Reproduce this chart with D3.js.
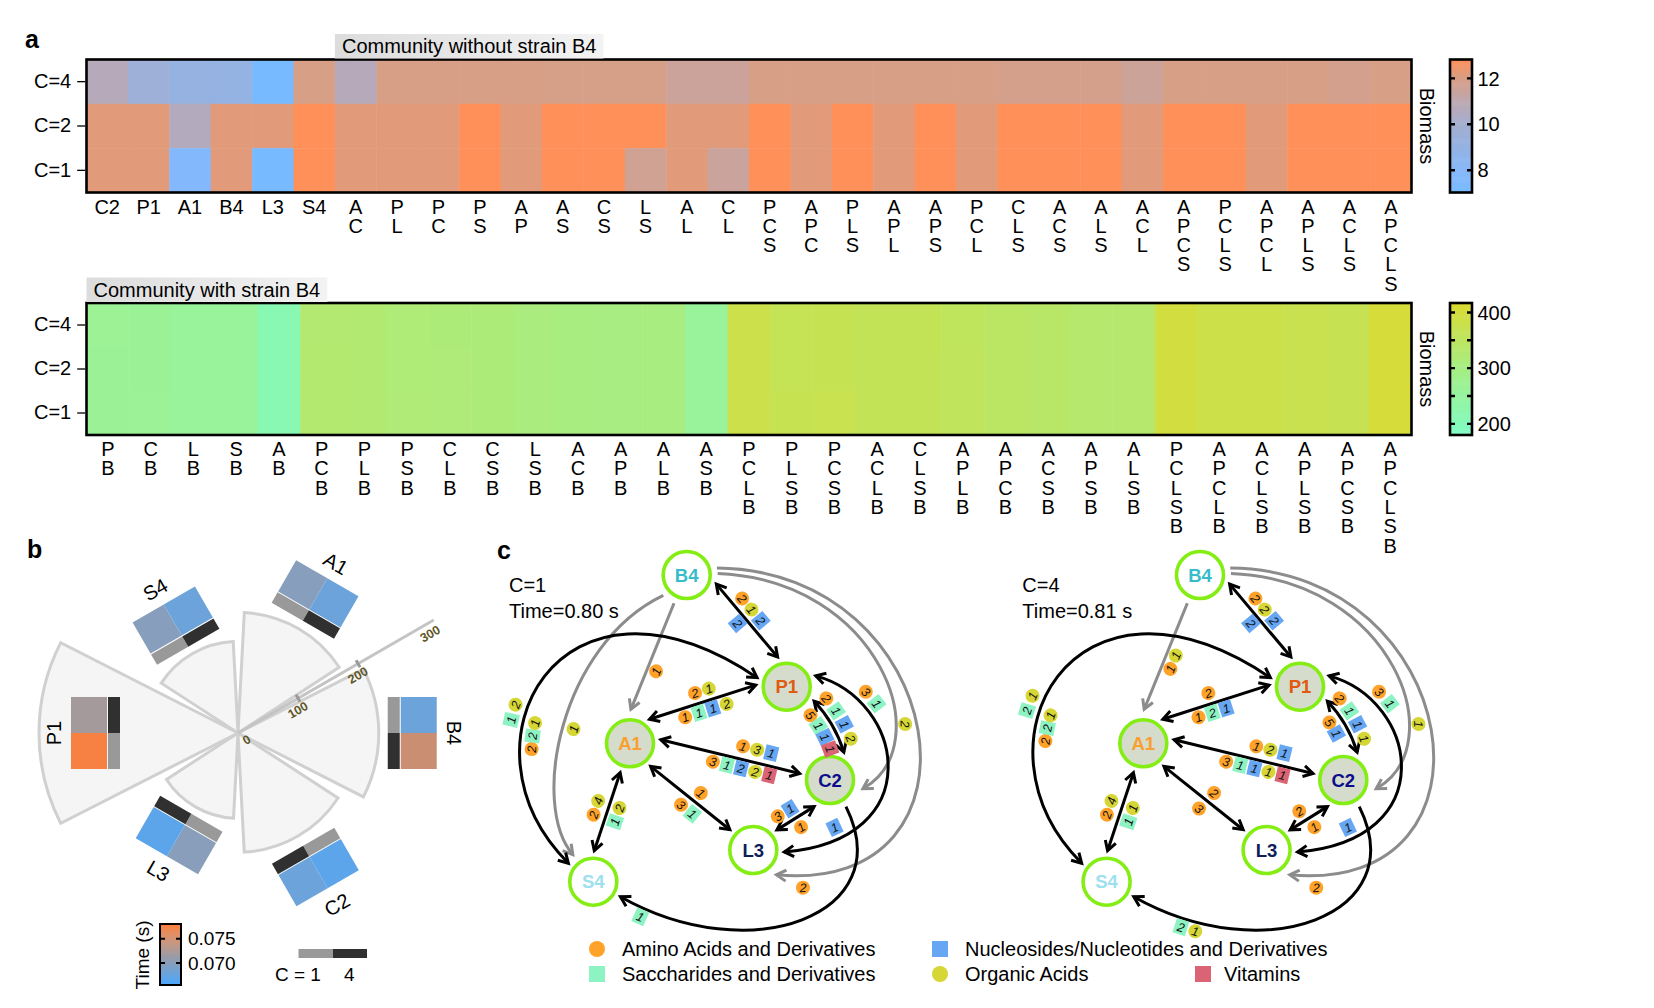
<!DOCTYPE html>
<html>
<head>
<meta charset="utf-8">
<script src="https://cdn.jsdelivr.net/npm/d3@7/dist/d3.min.js"></script>
<style>
  html,body{margin:0;padding:0;background:#ffffff;}
  text{font-family:"Liberation Sans",Arial,Helvetica,sans-serif;}
</style>
</head>
<body>
<svg id="fig" width="1654" height="1008" viewBox="0 0 1654 1008"></svg>
<script>
// ======================= DATA =======================
const rowLabels = ["C=4", "C=2", "C=1"];

// Panel a (top): community without strain B4
const topCols = ["C2","P1","A1","B4","L3","S4","AC","PL","PC","PS","AP","AS","CS","LS","AL","CL",
  "PCS","APC","PLS","APL","APS","PCL","CLS","ACS","ALS","ACL","APCS","PCLS","APCL","APLS","ACLS","APCLS"];
const topC4 = [10.7,9.6,9.1,9.0,7.0,11.95,10.7,11.95,11.95,11.95,11.95,11.9,11.9,11.9,11.5,11.5,
  11.95,11.95,11.95,11.95,11.95,11.95,11.85,11.85,11.85,11.55,11.95,11.95,11.95,11.95,11.8,11.95];
const topC2 = [12.2,12.2,10.6,12.2,12.2,12.8,12.2,12.2,12.2,12.8,12.2,12.8,12.8,12.8,12.2,12.2,
  12.8,12.2,12.8,12.2,12.8,12.2,12.8,12.8,12.8,12.2,12.8,12.8,12.2,12.8,12.8,12.8];
const topC1 = [12.2,12.2,7.7,12.2,7.0,12.8,12.2,12.2,12.2,12.8,12.2,12.8,12.8,11.65,12.2,11.45,
  12.8,12.2,12.8,12.2,12.8,12.2,12.8,12.8,12.8,12.2,12.8,12.8,12.2,12.8,12.8,12.8];
const topTicks = [8, 10, 12];

// Panel a (bottom): community with strain B4
const botCols = ["PB","CB","LB","SB","AB","PCB","PLB","PSB","CLB","CSB","LSB","ACB","APB","ALB","ASB",
  "PCLB","PLSB","PCSB","ACLB","CLSB","APLB","APCB","ACSB","APSB","ALSB","PCLSB","APCLB","ACLSB","APLSB","APCSB","APCLSB"];
const botC4 = [268,266,258,257,212,328,326,318,316,315,308,305,303,305,258,
  380,365,368,362,362,355,345,340,333,333,395,382,382,375,370,405];
const botC2 = [267,266,259,257,211,329,326,318,317,315,308,305,303,305,257,
  380,366,368,362,362,356,345,340,333,333,395,382,382,375,370,405];
const botC1 = [267,265,259,256,211,329,326,319,317,315,309,305,303,305,257,
  381,372,373,362,362,356,345,340,333,333,395,382,382,375,370,405];
const botTicks = [200, 300, 400];
const botMinorTicks = [250, 350];

// Panel b
const strains = ["B4","A1","S4","P1","L3","C2"];
const wedgeValue = [203, 174, 132, 287, 123, 172];
const timeC1 = [0.0679, 0.0699, 0.0699, 0.0775, 0.0700, 0.0668];
const timeC4 = [0.0745, 0.0679, 0.0679, 0.0720, 0.0668, 0.0679];
const radialTicks = [0, 100, 200, 300];
const timeTicks = [0.070, 0.075];

// Panel c
const netNodes = ["B4","P1","A1","C2","L3","S4"];
const netCond = [1, 4];
const netTime = [0.80, 0.81];
const netC1Edges = ["g1","g2","g3","g4","e1","e2","e3","e4","e5","e6","e7","e8","e9","e10"];
const netC4Edges = ["g1","g3","g4","e1","e2","e3","e4","e5","e6","e7","e8","e9","e10"];
const netC1Counts = {
  e1A:"aa2 oa1 nu2", e1B:"nu2", e2A:"aa2 oa1", e2B:"aa1 sa1 nu1 oa2",
  e3A:"aa1 oa3 nu1", e3B:"aa3 sa1 nu2 oa2 vi1", e4A:"aa1", e4B:"aa3 sa1",
  e5A:"oa4 aa2", e5B:"oa2 sa1", e6A:"aa2 sa1 nu1 oa2", e6B:"aa5 sa1 nu1 vi1",
  e7A:"aa3 sa1", e7B:"nu1", e8A:"sa1", e9A:"sa1 oa2", e9B:"aa2 sa2 oa1",
  e10A:"nu1 aa3", e10B:"aa1", g1A:"aa1", g2A:"oa1", g3A:"oa2", g4A:"aa2"
};
const netC4Counts = {
  e1A:"aa2 oa2 nu2", e1B:"nu2", e2A:"aa2", e2B:"aa1 sa2 nu1",
  e3A:"aa1 oa2 nu1", e3B:"aa3 sa1 nu1 oa1 vi1", e4A:"aa2", e4B:"aa3",
  e5A:"oa4 aa2", e5B:"oa1 sa1", e6A:"aa2 sa1 nu1 oa1", e6B:"aa5 nu1",
  e7A:"aa3 sa1", e7B:"nu1", e8A:"oa1 sa2", e9A:"sa2 oa1", e9B:"aa2 sa2 oa1",
  e10A:"aa2", e10B:"aa1", g1A:"oa1 aa1", g3A:"oa1", g4A:"aa2"
};
const metaKeys = ["aa","sa","nu","oa","vi"];
const metaNames = ["Amino Acids and Derivatives","Saccharides and Derivatives",
  "Nucleosides/Nucleotides and Derivatives","Organic Acids","Vitamins"];

// ======================= STYLE / LAYOUT =======================
const FONT = '"Liberation Sans", Arial, Helvetica, sans-serif';
const svg = d3.select("#fig");
const defs = svg.append("defs");
const gradT = defs.append("linearGradient").attr("id","titleGrad").attr("x1","0").attr("x2","1").attr("y1","0").attr("y2","0");
gradT.append("stop").attr("offset","0").attr("stop-color","#dcdcdc");
gradT.append("stop").attr("offset","1").attr("stop-color","#f3f3f3");

const topColor = d3.scaleLinear()
  .domain([7, 8, 9, 10, 11, 12, 12.8])
  .range(["#78baff","#88b8fa","#94b2e2","#a4aed0","#bea8b0","#d89e84","#ff905a"])
  .clamp(true);
const botColor = d3.scaleLinear()
  .domain([180, 300, 417])
  .range(["#7ffcc4","#a6ee84","#dcda30"]).clamp(true);
const timeColor = d3.scaleLinear()
  .domain([0.0655, 0.072, 0.078])
  .range(["#4aa8ff","#a49a9c","#ff7f3a"]).clamp(true);

const HM = {x0: 86.5, x1: 1411.5};

function panelLabel(t, x, y) {
  svg.append("text").attr("x", x).attr("y", y).attr("font-size", 25)
    .attr("font-weight", "bold").attr("fill", "#000").text(t);
}

function heatmap(o) {
  const g = svg.append("g");
  const x = d3.scaleBand().domain(o.cols).range([HM.x0, HM.x1]);
  const y = d3.scaleBand().domain(rowLabels).range([o.y0, o.y1]);
  const rows = [o.v4, o.v2, o.v1];
  rowLabels.forEach((r, ri) => {
    g.append("g").selectAll("rect").data(o.cols).join("rect")
      .attr("x", c => x(c)).attr("y", y(r))
      .attr("width", x.bandwidth() + 0.5).attr("height", y.bandwidth() + 0.5)
      .attr("fill", (c, i) => o.color(rows[ri][i]));
  });
  g.append("rect").attr("x", HM.x0).attr("y", o.y0)
    .attr("width", HM.x1 - HM.x0).attr("height", o.y1 - o.y0)
    .attr("fill", "none").attr("stroke", "#000").attr("stroke-width", 2.6);
  const ax = g.append("g").attr("transform", `translate(${HM.x0 - 1.3},0)`)
    .call(d3.axisLeft(y).tickSize(8).tickPadding(6));
  ax.select(".domain").remove();
  ax.selectAll("line").attr("stroke", "#000").attr("stroke-width", 1.3);
  ax.selectAll("text").attr("font-size", 20).attr("font-family", FONT).attr("fill", "#000");
  g.append("g").selectAll("text").data(o.cols).join("text")
    .attr("x", c => x(c) + x.bandwidth() / 2).attr("y", o.y1 + 21)
    .attr("text-anchor", "middle").attr("font-size", 20).attr("fill", "#000")
    .each(function (c) {
      const lines = /\d/.test(c) ? [c] : c.split("");
      d3.select(this).selectAll("tspan").data(lines).join("tspan")
        .attr("x", x(c) + x.bandwidth() / 2)
        .attr("dy", (d, i) => i ? 19.3 : 0).text(d => d);
    });
  const tx = x(o.cols[o.titleCol]) + 7;
  const tbox = g.append("rect").attr("x", tx - 7).attr("y", o.y0 - 25.5)
    .attr("height", 24.5).attr("fill", "url(#titleGrad)");
  const tt = g.append("text").attr("x", tx).attr("y", o.y0 - 6.5).attr("font-size", 20)
    .attr("fill", "#000").text(o.title);
  tbox.attr("width", tt.node().getComputedTextLength() + 14);
  const cb = {x0: 1450, x1: 1472};
  const yS = d3.scaleLinear().domain(o.cbDomain).range([o.y1, o.y0]);
  const nSteps = 140, st = (o.y1 - o.y0) / nSteps;
  g.append("g").selectAll("rect").data(d3.range(nSteps)).join("rect")
    .attr("x", cb.x0).attr("width", cb.x1 - cb.x0)
    .attr("y", i => o.y0 + i * st).attr("height", st + 0.6)
    .attr("fill", i => o.color(yS.invert(o.y0 + (i + 0.5) * st)));
  const allTicks = o.ticks.concat(o.minor || []);
  g.append("g").selectAll("path").data(allTicks).join("path")
    .attr("d", v => `M${cb.x0},${yS(v)}h5M${cb.x1},${yS(v)}h-5`)
    .attr("stroke", "#000").attr("stroke-width", 2.4);
  g.append("rect").attr("x", cb.x0).attr("y", o.y0).attr("width", cb.x1 - cb.x0)
    .attr("height", o.y1 - o.y0).attr("fill", "none").attr("stroke", "#000").attr("stroke-width", 2.6);
  g.append("g").selectAll("text").data(o.ticks).join("text")
    .attr("x", cb.x1 + 5.5).attr("y", v => yS(v)).attr("dy", "0.36em")
    .attr("font-size", 20).attr("fill", "#000").text(v => v);
  g.append("text").attr("transform", `translate(1420,${(o.y0 + o.y1) / 2}) rotate(90)`)
    .attr("text-anchor", "middle").attr("font-size", 20).attr("fill", "#000").text("Biomass");
}

panelLabel("a", 25, 48);
heatmap({cols: topCols, v4: topC4, v2: topC2, v1: topC1, y0: 59.5, y1: 192.5, color: topColor,
  cbDomain: [7.03, 12.82], ticks: topTicks, title: "Community without strain B4", titleCol: 6});
heatmap({cols: botCols, v4: botC4, v2: botC2, v1: botC1, y0: 303, y1: 435, color: botColor,
  cbDomain: [180, 417], ticks: botTicks, minor: botMinorTicks, title: "Community with strain B4", titleCol: 0});

// ======================= PANEL b =======================
panelLabel("b", 27, 558);
(function () {
  const cx = 238, cy = 733, D = Math.PI / 180;
  const rS = d3.scaleLinear().domain([0, 300]).range([0, 208]);
  const gb = svg.append("g");
  const angleOf = i => i * 60;
  const half = 27;
  const tileGap = {B4: 15, A1: 15, S4: 14, P1: null, L3: 14, C2: 17};
  const labelGap = {B4: 60, A1: 60, S4: 60, P1: 60, L3: 60, C2: 62};
  strains.forEach((s, i) => {
    const th = angleOf(i);
    const arc = d3.arc().innerRadius(0).outerRadius(rS(wedgeValue[i]))
      .startAngle((90 - th - half) * D).endAngle((90 - th + half) * D);
    gb.append("path").attr("transform", `translate(${cx},${cy})`).attr("d", arc())
      .attr("fill", "#f5f5f5").attr("stroke", "#d0d0d0").attr("stroke-width", 3)
      .attr("stroke-linejoin", "miter");
  });
  const ax = 30 * D, ux = Math.cos(ax), uy = -Math.sin(ax);
  const rEnd = rS(326);
  gb.append("line").attr("x1", cx).attr("y1", cy).attr("x2", cx + rEnd * ux).attr("y2", cy + rEnd * uy)
    .attr("stroke", "#c4c4c4").attr("stroke-width", 3);
  const px = -uy, py = ux;
  gb.selectAll(".rt").data(radialTicks.filter(v => v > 0 && v < 300)).join("line")
    .attr("x1", v => cx + rS(v) * ux - 4 * px).attr("y1", v => cy + rS(v) * uy - 4 * py)
    .attr("x2", v => cx + rS(v) * ux + 4 * px).attr("y2", v => cy + rS(v) * uy + 4 * py)
    .attr("stroke", "#9a9a9a").attr("stroke-width", 3);
  const sinA = Math.sin(ax), cosA = Math.cos(ax);
  const alongShift = v => v === 0 ? 4 : (v === 300 ? 8 : -6);
  gb.selectAll(".rl").data(radialTicks).join("text")
    .attr("transform", v => {
      const r = rS(v) + alongShift(v);
      return `translate(${cx + r * ux + 10 * sinA},${cy + r * uy + 10 * cosA}) rotate(-30)`;
    })
    .attr("text-anchor", "middle").attr("dy", "0.35em").attr("font-size", 12.5)
    .attr("font-weight", "bold").attr("fill", "#5e5628").text(v => v);
  strains.forEach((s, i) => {
    const th = angleOf(i);
    const r = rS(wedgeValue[i]);
    const rs = tileGap[s] === null ? 124 : r + tileGap[s];
    const t = gb.append("g").attr("transform", `translate(${cx},${cy}) rotate(${-th})`);
    t.append("rect").attr("x", rs - 6).attr("y", -36).attr("width", 12).attr("height", 36).attr("fill", "#999999");
    t.append("rect").attr("x", rs - 6).attr("y", 0).attr("width", 12).attr("height", 36).attr("fill", "#303030");
    t.append("rect").attr("x", rs + 7).attr("y", -36).attr("width", 36).attr("height", 36).attr("fill", timeColor(timeC1[i]));
    t.append("rect").attr("x", rs + 7).attr("y", 0).attr("width", 36).attr("height", 36).attr("fill", timeColor(timeC4[i]));
    const rl = rs + labelGap[s];
    let rot = 90 - th;
    if (th > 180 && th < 360) rot += 180;
    gb.append("text")
      .attr("transform", `translate(${cx + rl * Math.cos(th * D)},${cy - rl * Math.sin(th * D)}) rotate(${rot})`)
      .attr("text-anchor", "middle").attr("dy", "0.35em").attr("font-size", 20).attr("fill", "#000").text(s);
  });
  const ly = d3.scaleLinear().domain([0.0655, 0.078]).range([985, 924]);
  const n = 60, st = (985 - 924) / n;
  gb.append("g").selectAll("rect").data(d3.range(n)).join("rect")
    .attr("x", 160).attr("width", 21).attr("y", i => 924 + i * st).attr("height", st + 0.5)
    .attr("fill", i => timeColor(ly.invert(924 + (i + 0.5) * st)));
  gb.selectAll(".tt").data(timeTicks).join("path")
    .attr("d", v => `M160,${ly(v)}h5M181,${ly(v)}h-5`).attr("stroke", "#000").attr("stroke-width", 2);
  gb.append("rect").attr("x", 160).attr("y", 924).attr("width", 21).attr("height", 61)
    .attr("fill", "none").attr("stroke", "#000").attr("stroke-width", 2);
  gb.selectAll(".tl").data(timeTicks).join("text")
    .attr("x", 188).attr("y", v => ly(v)).attr("dy", "0.36em").attr("font-size", 19).attr("fill", "#000")
    .text(v => v.toFixed(3));
  gb.append("text").attr("transform", "translate(142,955) rotate(-90)").attr("text-anchor", "middle")
    .attr("dy", "0.35em").attr("font-size", 19).attr("fill", "#000").text("Time (s)");
  gb.append("rect").attr("x", 298.5).attr("y", 949).attr("width", 34.5).attr("height", 9).attr("fill", "#999999");
  gb.append("rect").attr("x", 333).attr("y", 949).attr("width", 34).attr("height", 9).attr("fill", "#303030");
  gb.append("text").attr("x", 275).attr("y", 981).attr("font-size", 19).attr("fill", "#000").text("C = " + netCond[0]);
  gb.append("text").attr("x", 344).attr("y", 981).attr("font-size", 19).attr("fill", "#000").text(netCond[1]);
})();

// ======================= PANEL c =======================
panelLabel("c", 497, 559);
const nodePos = {B4: [226.7, 70], P1: [326.7, 181.7], A1: [170, 238.3], C2: [370, 275], L3: [293.3, 345], S4: [133.3, 376.7]};
const nodeFill = {B4: "#ffffff", P1: "#d5dccc", A1: "#d5dccc", C2: "#d5dccc", L3: "#ffffff", S4: "#ffffff"};
const nodeText = {B4: "#38bcca", P1: "#e05a10", A1: "#f8a030", C2: "#0c0c8c", L3: "#0e1e5a", S4: "#9ee0ee"};
const metaColor = {aa: "#ffa229", sa: "#8ef3c3", nu: "#66a6f2", oa: "#d6d636", vi: "#da6474"};
const edgeGeom = {
  e1: {s: "B4", t: "P1", type: "line", shift: [-16, -13], arrows: "both"},
  e2: {s: "A1", t: "P1", type: "line", shift: [-16, -12], arrows: "both"},
  e3: {s: "A1", t: "C2", type: "line", shift: [-9, -1], arrows: "both"},
  e4: {s: "A1", t: "L3", type: "line", shift: [4, 0], arrows: "both"},
  e5: {s: "A1", t: "S4", type: "line", shift: [2, 7], arrows: "both"},
  e6: {s: "P1", t: "C2", type: "quad", a: [28, -63.5], q: [374.8, 217.7], arrows: "both"},
  e7: {s: "P1", t: "L3", type: "cubic", a: [-20.5, 3.6], c1: [445, 195], c2: [470, 335], arrows: "both"},
  e8: {s: "C2", t: "S4", type: "cubic", a: [59, 29], c1: [440, 410], c2: [290, 465], arrows: "end"},
  e9: {s: "S4", t: "P1", type: "cubic", a: [-143.5, -163], c1: [-10, 240], c2: [100, 40], arrows: "both"},
  e10: {s: "C2", t: "L3", type: "line", shift: [-9, -1], arrows: "both"},
  g1: {s: "B4", t: "A1", type: "line", shift: [3, 10], arrows: "end", gray: true},
  g2: {s: "B4", t: "S4", type: "cubic", a: [139, -127], c1: [100, 140], c2: [70, 300], arrows: "end", gray: true},
  g3: {s: "B4", t: "C2", type: "cubic", a: [-3, 15], c1: [420, 75], c2: [480, 240], arrows: "end", gray: true},
  g4: {s: "B4", t: "L3", type: "cubic", a: [-13, 47], c1: [490, 65], c2: [540, 390], arrows: "end", gray: true}
};
const badgeLayout = {
  e1A: {f: [.29, .29], off: -10.5}, e1B: {f: [.46, .46], off: 9},
  e2A: {f: [.46, .46], off: -11}, e2B: {f: [.31, .31], off: 9},
  e3A: {f: [.57, .57], off: -13}, e3B: {f: [.39, .39], off: 9},
  e4A: {f: [.55, .55], off: -10.5}, e4B: {f: [.47, .53], off: 11},
  e5A: {f: [.41, .41], off: 12}, e5B: {f: [.41, .41], off: -10.5},
  e6A: {f: [.10, .10], off: -11}, e6B: {f: [.14, .31], off: 12},
  e7A: {f: [.18, .18], off: -11}, e7B: {f: [.79, .79], off: 12},
  e8A: {f: [.92, .79], off: -9},
  e9A: {f: [.35, .37], off: -12}, e9B: {f: [.29, .31], off: 12},
  e10A: {f: [.49, .60], off: 11}, e10B: {f: [.50, .50], off: -10.5},
  g1A: {f: [.61, .46], off: -9}, g2A: {f: [.56, .56], off: -11},
  g3A: {f: [.77, .77], off: -9}, g4A: {f: [.95, .95], off: -12}
};

function drawNet(ni, ox, oy, edgeList, counts) {
  const X = d3.scaleLinear().domain([0, 100]).range([ox, ox + 100]);
  const Y = d3.scaleLinear().domain([0, 100]).range([oy, oy + 100]);
  const P = k => [X(nodePos[k][0]), Y(nodePos[k][1])];
  const D = Math.PI / 180;
  const g = svg.append("g");
  const gE = g.append("g"), gA = g.append("g"), gN = g.append("g"), gB = g.append("g");
  const pathNodes = {};
  edgeList.forEach(id => {
    const e = edgeGeom[id];
    const S = P(e.s), T = P(e.t);
    const R0 = 31, R1 = e.gray ? 34 : 31;
    let d;
    if (e.type === "line") {
      const dx = T[0] - S[0], dy = T[1] - S[1], L = Math.hypot(dx, dy);
      const ux = dx / L, uy = dy / L, nx = -uy, ny = ux;
      const s0 = e.shift[0], s1 = e.shift[1];
      const a0 = Math.sqrt(R0 * R0 - s0 * s0), a1 = Math.sqrt(R1 * R1 - s1 * s1);
      const p0 = [S[0] + s0 * nx + a0 * ux, S[1] + s0 * ny + a0 * uy];
      const p1 = [T[0] + s1 * nx - a1 * ux, T[1] + s1 * ny - a1 * uy];
      d = `M${p0}L${p1}`;
    } else {
      const p0 = [S[0] + R0 * Math.cos(e.a[0] * D), S[1] + R0 * Math.sin(e.a[0] * D)];
      const p1 = [T[0] + R1 * Math.cos(e.a[1] * D), T[1] + R1 * Math.sin(e.a[1] * D)];
      if (e.type === "quad") d = `M${p0}Q${X(e.q[0])},${Y(e.q[1])} ${p1}`;
      else d = `M${p0}C${X(e.c1[0])},${Y(e.c1[1])} ${X(e.c2[0])},${Y(e.c2[1])} ${p1}`;
    }
    const col = e.gray ? "#8c8c8c" : "#000000";
    const path = gE.append("path").attr("d", d).attr("fill", "none").attr("stroke", col).attr("stroke-width", 3);
    const pn = path.node();
    pathNodes[id] = pn;
    const L = pn.getTotalLength();
    const head = (tipL, backL) => {
      const tp = pn.getPointAtLength(tipL), bp = pn.getPointAtLength(backL);
      let ux = tp.x - bp.x, uy = tp.y - bp.y; const m = Math.hypot(ux, uy); ux /= m; uy /= m;
      const len = 11, ca = Math.cos(30 * D), sa = Math.sin(30 * D);
      const l1 = [tp.x - len * (ux * ca - uy * sa), tp.y - len * (uy * ca + ux * sa)];
      const l2 = [tp.x - len * (ux * ca + uy * sa), tp.y - len * (uy * ca - ux * sa)];
      gA.append("path").attr("d", `M${l1}L${tp.x},${tp.y}L${l2}`).attr("fill", "none")
        .attr("stroke", col).attr("stroke-width", 3).attr("stroke-linejoin", "miter");
    };
    head(L, L - 4);
    if (e.arrows === "both") head(0, 4);
  });
  netNodes.forEach(k => {
    const [x, y] = P(k);
    gN.append("circle").attr("cx", x).attr("cy", y).attr("r", 23.5).attr("fill", nodeFill[k])
      .attr("stroke", "#84ee14").attr("stroke-width", 3.6);
    gN.append("text").attr("x", x).attr("y", y).attr("dy", "0.36em").attr("text-anchor", "middle")
      .attr("font-size", 18.5).attr("font-weight", "bold").attr("fill", nodeText[k]).text(k);
  });
  Object.keys(counts).forEach(key => {
    const id = key.slice(0, -1);
    const pn = pathNodes[id];
    if (!pn) return;
    const lay = badgeLayout[key];
    const items = counts[key].split(" ").map(s => ({type: s.slice(0, 2), n: s.slice(2)}));
    const L = pn.getTotalLength();
    items.forEach((it, k) => {
      let l = lay.f[ni] * L + k * 14.5;
      l = Math.max(1, Math.min(L - 1, l));
      const p = pn.getPointAtLength(l);
      const pa = pn.getPointAtLength(Math.max(0, l - 1.5)), pb = pn.getPointAtLength(Math.min(L, l + 1.5));
      let ux = pb.x - pa.x, uy = pb.y - pa.y; const m = Math.hypot(ux, uy); ux /= m; uy /= m;
      const x = p.x - uy * lay.off, y = p.y + ux * lay.off;
      let ang = Math.atan2(uy, ux) * 180 / Math.PI;
      if (ang > 90) ang -= 180;
      if (ang <= -90) ang += 180;
      const b = gB.append("g").attr("transform", `translate(${x},${y}) rotate(${ang})`);
      if (it.type === "aa" || it.type === "oa") {
        b.append("circle").attr("r", 7).attr("fill", metaColor[it.type]);
      } else {
        b.append("rect").attr("x", -6.5).attr("y", -7.5).attr("width", 13).attr("height", 15).attr("fill", metaColor[it.type]);
      }
      b.append("text").attr("text-anchor", "middle").attr("dy", "0.36em").attr("font-size", 12.5)
        .attr("font-style", "italic").attr("fill", "#111").text(it.n);
    });
  });
  g.append("text").attr("x", ox + 49).attr("y", 592).attr("font-size", 20).attr("fill", "#000").text("C=" + netCond[ni]);
  g.append("text").attr("x", ox + 49).attr("y", 618).attr("font-size", 20).attr("fill", "#000")
    .text("Time=" + netTime[ni].toFixed(2) + " s");
}

drawNet(0, 460, 505, netC1Edges, netC1Counts);
drawNet(1, 973.3, 505, netC4Edges, netC4Counts);

(function () {
  const lx = {aa: 597, sa: 597, nu: 940, oa: 940, vi: 1203};
  const lyy = {aa: 949, sa: 974, nu: 949, oa: 974, vi: 974};
  const gl = svg.append("g");
  metaKeys.forEach((k, i) => {
    const x = lx[k], y = lyy[k];
    if (k === "aa" || k === "oa") gl.append("circle").attr("cx", x).attr("cy", y).attr("r", 8).attr("fill", metaColor[k]);
    else gl.append("rect").attr("x", x - 8).attr("y", y - 8).attr("width", 16).attr("height", 16).attr("fill", metaColor[k]);
    gl.append("text").attr("x", x + (k === "vi" ? 21 : 25)).attr("y", y).attr("dy", "0.36em")
      .attr("font-size", 20).attr("fill", "#000").text(metaNames[i]);
  });
})();
</script>
</body>
</html>
